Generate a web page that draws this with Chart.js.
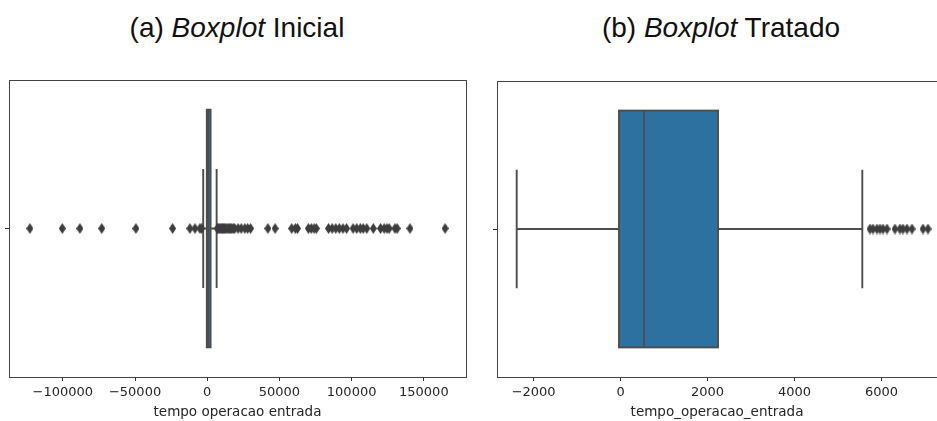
<!DOCTYPE html>
<html>
<head>
<meta charset="utf-8">
<script src="https://cdn.jsdelivr.net/npm/chart.js@4"></script>
<style>
  html, body { margin: 0; padding: 0; background: #fff; width: 937px; height: 421px; overflow: hidden; }
  .titulo { position: absolute; top: 14px; font: 28px "Liberation Sans", Arial, sans-serif; line-height: 28px; color: #111; white-space: nowrap; transform: translateX(-50%); }
  #graficoInicial { position: absolute; left: 0; top: 0; }
  #graficoTratado { position: absolute; left: 470px; top: 0; }
</style>
</head>
<body>
<div class="titulo" style="left:237px">(a) <i>Boxplot</i> Inicial</div>
<div class="titulo" style="left:721px">(b) <i>Boxplot</i> Tratado</div>
<canvas id="graficoInicial" width="470" height="421"></canvas>
<canvas id="graficoTratado" width="467" height="421"></canvas>
<script>
// estatísticas: [bigode inferior, Q1, mediana, Q3, bigode superior]
const statsInicial = [-2800, -300, 550, 2300, 6500];
const statsTratado = [-2390, -37, 538, 2240, 5559];

// outliers
const outliersInicial = [
  -122800, -100400, -88200, -73100, -49400, -24000, -12000, -8500, -5100, -3900,
  7000, 7500, 8200, 9000, 9800, 10500, 11200, 12000, 12800, 13600, 14500, 15300, 16200, 17000, 18000, 19000,
  21300, 23500, 26000, 28000, 30000,
  42000, 47000, 58500, 61000, 62500,
  70000, 72000, 74000, 75500,
  84000, 86500, 89000, 91500, 94000, 96500,
  101000, 103500, 106000, 108000, 110500, 115000,
  120000, 122500, 124500, 126000, 130000, 131500,
  140400, 164700
];
const outliersTratado = [5736, 5805, 5897, 5966, 6035, 6127, 6311, 6426, 6495, 6587, 6702, 6955, 7070];

const ticksInicial = [-100000, -50000, 0, 50000, 100000, 150000];
const ticksTratado = [-2000, 0, 2000, 4000, 6000];

const COR_CAIXA = '#2c71a0';
const COR_LINHA = '#4d4d4d';
const COR_TEXTO = '#262626';

// marcador "d" do matplotlib (losango fino)
const losango = document.createElement('canvas');
losango.width = 7; losango.height = 11;
(function () {
  const c = losango.getContext('2d');
  c.fillStyle = '#3d3d3d';
  c.beginPath();
  c.moveTo(3.5, 0); c.lineTo(7, 5.5); c.lineTo(3.5, 11); c.lineTo(0, 5.5);
  c.closePath(); c.fill();
})();

function fmt(v) {
  return v < 0 ? '\u2212' + Math.abs(v) : String(v);
}

function boxPlugin(stats) {
  return {
    id: 'caixa',
    beforeDatasetsDraw(chart) {
      const { ctx, scales: { x, y } } = chart;
      const [lo, q1, med, q3, hi] = stats.map(v => x.getPixelForValue(v));
      const yc = y.getPixelForValue(0);
      const bTop = y.getPixelForValue(0.4), bBot = y.getPixelForValue(-0.4);
      const cTop = y.getPixelForValue(0.2), cBot = y.getPixelForValue(-0.2);
      ctx.save();
      ctx.strokeStyle = COR_LINHA;
      ctx.lineWidth = 1.9;
      ctx.beginPath();
      ctx.moveTo(lo, yc); ctx.lineTo(q1, yc);
      ctx.moveTo(q3, yc); ctx.lineTo(hi, yc);
      ctx.moveTo(lo, cTop); ctx.lineTo(lo, cBot);
      ctx.moveTo(hi, cTop); ctx.lineTo(hi, cBot);
      ctx.stroke();
      ctx.fillStyle = COR_CAIXA;
      ctx.fillRect(q1, bTop, q3 - q1, bBot - bTop);
      ctx.strokeRect(q1, bTop, q3 - q1, bBot - bTop);
      ctx.beginPath();
      ctx.moveTo(med, bTop); ctx.lineTo(med, bBot);
      ctx.stroke();
      ctx.restore();
    },
    afterDraw(chart) {
      const { ctx, chartArea: a } = chart;
      ctx.save();
      ctx.strokeStyle = '#444';
      ctx.lineWidth = 1;
      ctx.strokeRect(a.left + 0.5, a.top + 0.5, a.right - a.left, a.bottom - a.top);
      ctx.restore();
    }
  };
}

function buildBoxChart(id, stats, outliers, ticks, xmin, xmax, label, yw, pad) {
  const ctx = document.getElementById(id).getContext('2d');
  return new Chart(ctx, {
    type: 'scatter',
    data: {
      datasets: [{
        data: outliers.map(v => ({ x: v, y: 0 })),
        pointStyle: losango,
        pointRadius: 5
      }]
    },
    options: {
      responsive: false,
      animation: false,
      layout: { padding: pad, autoPadding: false },
      scales: {
        x: {
          type: 'linear', min: xmin, max: xmax,
          afterBuildTicks: s => { s.ticks = ticks.map(v => ({ value: v })); },
          afterFit: s => { s.height = 44; },
          grid: { display: true, drawOnChartArea: false, drawTicks: true, tickLength: 4, tickColor: '#333', tickWidth: 1 },
          border: { display: false },
          ticks: { color: COR_TEXTO, font: { family: 'DejaVu Sans', size: 13 }, padding: 4, maxRotation: 0, autoSkip: false, callback: v => fmt(v) },
          title: { display: true, text: label, color: COR_TEXTO, font: { family: 'DejaVu Sans', size: 13.5 }, padding: { top: 0, bottom: 0 } }
        },
        y: {
          type: 'linear', min: -0.5, max: 0.5,
          afterBuildTicks: s => { s.ticks = [{ value: 0 }]; },
          afterFit: s => { s.width = yw; },
          grid: { display: true, drawOnChartArea: false, drawTicks: true, tickLength: 4, tickColor: '#333' },
          border: { display: false },
          ticks: { callback: () => '' }
        }
      },
      plugins: { legend: { display: false }, tooltip: { enabled: false } }
    },
    plugins: [boxPlugin(stats)]
  });
}

buildBoxChart('graficoInicial', statsInicial, outliersInicial, ticksInicial, -137300, 179200,
  'tempo operacao entrada', 9, { top: 80, right: 4, left: 0, bottom: 0 });
buildBoxChart('graficoTratado', statsTratado, outliersTratado, ticksTratado, -2843, 7277,
  'tempo_operacao_entrada', 27, { top: 81, right: 0, left: 0, bottom: 0 });
</script>
</body>
</html>
